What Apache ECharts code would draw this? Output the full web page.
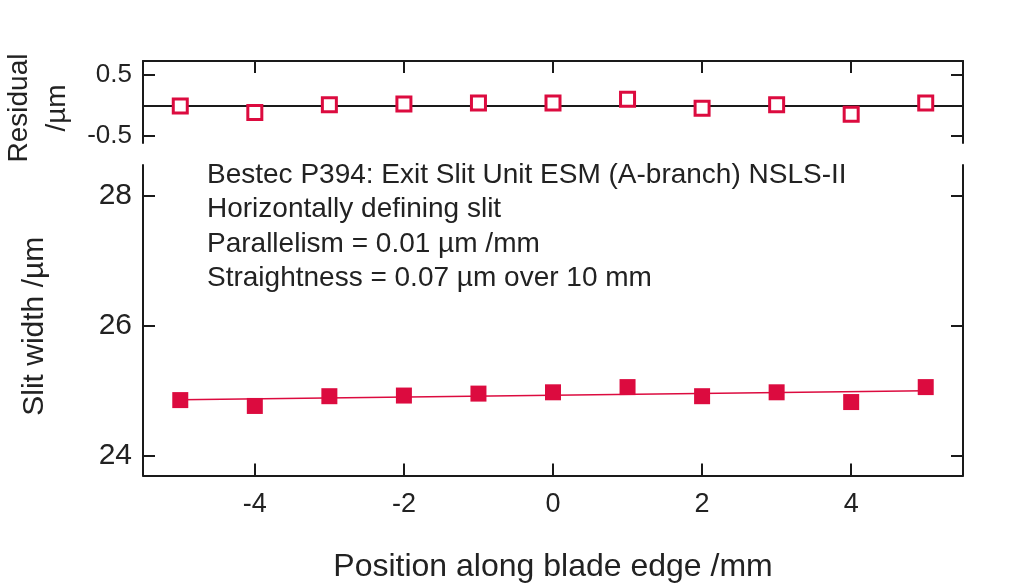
<!DOCTYPE html>
<html>
<head>
<meta charset="utf-8">
<script src="https://cdn.jsdelivr.net/npm/echarts@6/dist/echarts.min.js"></script>
<style>html,body{margin:0;padding:0;background:#fff}#c{width:1024px;height:588px}</style>
</head>
<body>
<div id="c"></div>
<script>
var positions = [-5, -4, -3, -2, -1, 0, 1, 2, 3, 4, 5];
var slitWidth = [24.86, 24.77, 24.92, 24.93, 24.96, 24.98, 25.06, 24.92, 24.98, 24.83, 25.06];
var residuals = [-0.01, -0.12, 0.01, 0.02, 0.04, 0.04, 0.10, -0.05, 0.01, -0.15, 0.04];
var fitX = [-5, 5];
var fitY = [24.866, 25.005];
var xTicks = [-4, -2, 0, 2, 4];
var widthTicks = [24, 26, 28];
var residTicks = [-0.5, 0.5];
var notes = [
  'Bestec P394: Exit Slit Unit ESM (A-branch) NSLS-II',
  'Horizontally defining slit',
  'Parallelism = 0.01 \u00b5m /mm',
  'Straightness = 0.07 \u00b5m over 10 mm'
];

var RED = '#dc0b3f';
var INK = '#1a1a1a';
var TXT = '#222222';
var FONT = "'Liberation Sans', Arial, sans-serif";
var FW = 'normal';
var axisLine = {show: true, onZero: false, lineStyle: {color: INK, width: 2}};
var tick = function (vals) { return {show: true, inside: true, length: 12, lineStyle: {color: INK, width: 2}, customValues: vals}; };
var ts = function (size, extra) {
  var o = {fontSize: size, color: TXT, fontFamily: FONT, fontWeight: FW};
  for (var k in extra) o[k] = extra[k];
  return o;
};

var chart = echarts.init(document.getElementById('c'));
chart.setOption({
  animation: false,
  textStyle: {fontFamily: FONT, fontWeight: FW, color: TXT},
  grid: [
    {left: 143, right: 61, top: 61, height: 82, outerBoundsMode: 'none', containLabel: false},
    {left: 143, right: 61, top: 165, bottom: 112.5, outerBoundsMode: 'none', containLabel: false}
  ],
  xAxis: [
    {gridIndex: 0, type: 'value', min: -5.5, max: 5.5, position: 'top',
     axisLine: axisLine, axisTick: tick(xTicks),
     axisLabel: {show: false, customValues: xTicks}, splitLine: {show: false}},
    {gridIndex: 1, type: 'value', min: -5.5, max: 5.5, position: 'bottom',
     axisLine: axisLine, axisTick: tick(xTicks),
     axisLabel: ts(27, {show: true, customValues: xTicks, margin: 16}),
     splitLine: {show: false},
     name: 'Position along blade edge /mm', nameLocation: 'middle', nameGap: 76,
     nameTextStyle: ts(32)}
  ],
  yAxis: [
    {gridIndex: 0, type: 'value', min: -0.625, max: 0.735, position: 'left',
     axisLine: axisLine, axisTick: tick(residTicks),
     axisLabel: ts(26, {show: true, customValues: residTicks, margin: 11}),
     splitLine: {show: false},
     name: 'Residual\n/\u00b5m', nameLocation: 'middle', nameGap: 63, nameRotate: 90,
     nameTextStyle: ts(28, {lineHeight: 38, padding: [0, 12, 0, 0]})},
    {gridIndex: 0, type: 'value', min: -0.625, max: 0.735, position: 'right',
     axisLine: axisLine, axisTick: tick(residTicks),
     axisLabel: {show: false, customValues: residTicks}, splitLine: {show: false}},
    {gridIndex: 1, type: 'value', min: 23.7, max: 28.477, position: 'left',
     axisLine: axisLine, axisTick: tick(widthTicks),
     axisLabel: ts(30, {show: true, customValues: widthTicks, margin: 11}),
     splitLine: {show: false},
     name: 'Slit width /\u00b5m', nameLocation: 'middle', nameGap: 93, nameRotate: 90,
     nameTextStyle: ts(30, {padding: [0, 12, 0, 0]})},
    {gridIndex: 1, type: 'value', min: 23.7, max: 28.477, position: 'right',
     axisLine: axisLine, axisTick: tick(widthTicks),
     axisLabel: {show: false, customValues: widthTicks}, splitLine: {show: false}}
  ],
  graphic: notes.map(function (t, i) {
    return {type: 'text', left: 207, top: 161 + i * 34.5,
      style: {text: t, fontSize: 28, fontFamily: FONT, fontWeight: FW, fill: TXT}};
  }),
  series: [
    {type: 'scatter', xAxisIndex: 0, yAxisIndex: 0,
     data: positions.map(function (x, i) { return [x, residuals[i]]; }),
     symbol: 'rect', symbolSize: 14,
     itemStyle: {color: '#fff', borderColor: RED, borderWidth: 3, opacity: 1},
     markLine: {silent: true, symbol: 'none', label: {show: false},
       lineStyle: {color: INK, width: 2, type: 'solid'}, data: [{yAxis: 0}]},
     z: 5},
    {type: 'line', xAxisIndex: 1, yAxisIndex: 2,
     data: fitX.map(function (x, i) { return [x, fitY[i]]; }),
     showSymbol: false, symbol: 'none', lineStyle: {color: RED, width: 1.5}},
    {type: 'scatter', xAxisIndex: 1, yAxisIndex: 2,
     data: positions.map(function (x, i) { return [x, slitWidth[i]]; }),
     symbol: 'rect', symbolSize: 16, itemStyle: {color: RED, opacity: 1}, z: 5}
  ]
});
</script>
</body>
</html>
